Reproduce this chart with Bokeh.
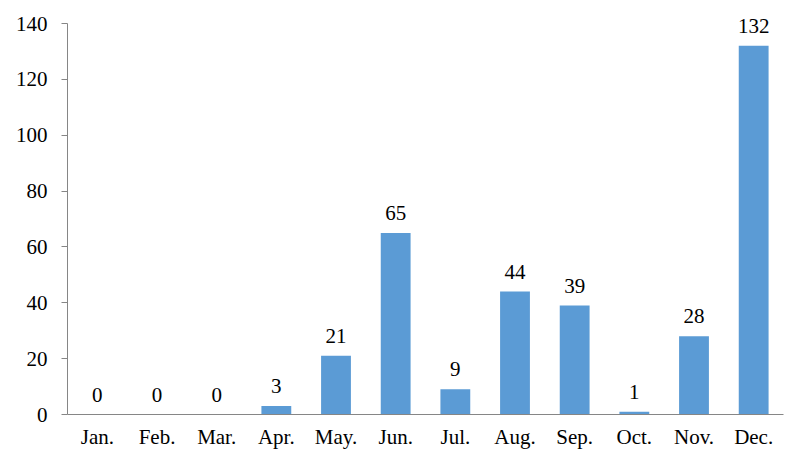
from bokeh.plotting import figure
from bokeh.models import ColumnDataSource, FixedTicker, Range1d
from bokeh.core.properties import value
from bokeh.embed import file_html
from bokeh.resources import INLINE

months = ["Jan.", "Feb.", "Mar.", "Apr.", "May.", "Jun.", "Jul.", "Aug.", "Sep.", "Oct.", "Nov.", "Dec."]
counts = [0, 0, 0, 3, 21, 65, 9, 44, 39, 1, 28, 132]
y_ticks = [0, 20, 40, 60, 80, 100, 120, 140]

src = ColumnDataSource(dict(m=months, c=counts, t=[str(v) for v in counts]))

# frame extends 15px above the 140 tick so the top data label is not clipped
top_pad_px = 15
axis_px = 391
y_end = y_ticks[-1] * (axis_px + top_pad_px) / axis_px

p = figure(x_range=months, y_range=Range1d(0, y_end), width=791, height=451,
           output_backend="svg", toolbar_location=None,
           min_border_left=67, min_border_right=8, min_border_top=23 - top_pad_px, min_border_bottom=37)
p.outline_line_color = None
p.xgrid.grid_line_color = None
p.ygrid.grid_line_color = None
p.x_range.range_padding = 0
p.background_fill_color = "white"
p.border_fill_color = "white"

font = "Liberation Serif"
fs = "21px"

p.vbar(x="m", top="c", width=0.5, source=src, color="#5B9BD5", line_color=None)
p.text(x="m", y="c", text="t", source=src, text_align="center", text_baseline="alphabetic",
       y_offset=-20, text_font=value(font), text_font_size=fs, text_color="black")

for ax in (p.xaxis, p.yaxis):
    ax.axis_line_color = "#868686"
    ax.major_label_text_font = font
    ax.major_label_text_font_size = fs
    ax.major_label_text_color = "black"
    ax.minor_tick_line_color = None

p.yaxis.ticker = FixedTicker(ticks=y_ticks)
p.yaxis.bounds = (0, y_ticks[-1])
p.yaxis.major_tick_line_color = "#868686"
p.yaxis.major_tick_out = 6
p.yaxis.major_tick_in = 0
p.yaxis.major_label_standoff = 14

p.xaxis.major_tick_line_color = None
p.xaxis.major_tick_out = 0
p.xaxis.major_tick_in = 0
p.xaxis.major_label_standoff = 10

open("out.html", "w").write(file_html(p, INLINE))
